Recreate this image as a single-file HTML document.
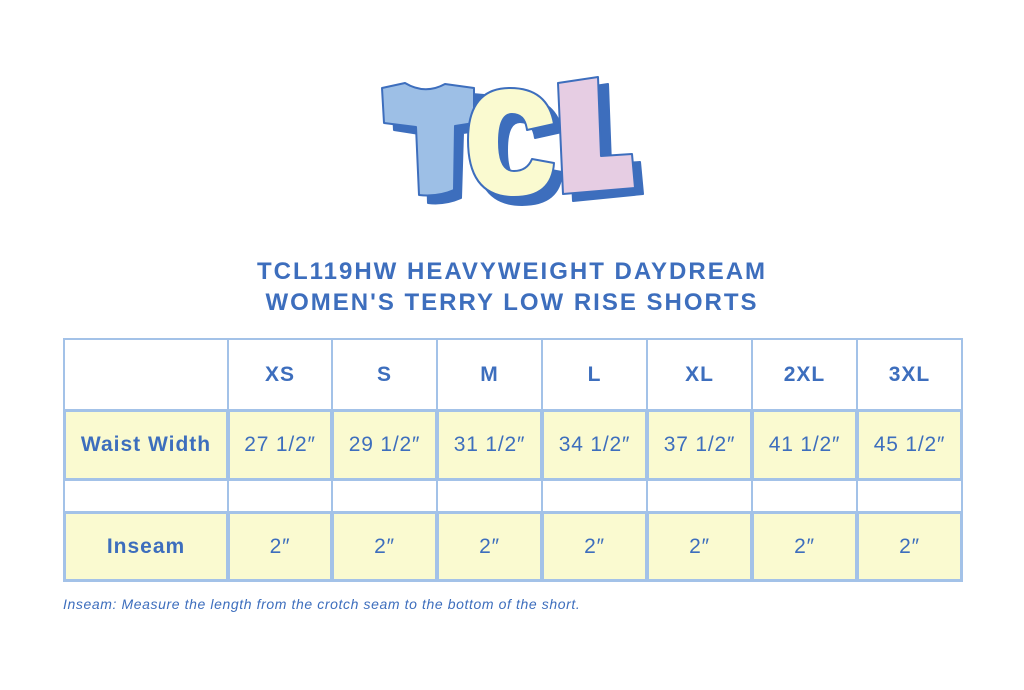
<!DOCTYPE html>
<html><head><meta charset="utf-8"><style>
body{margin:0;width:1024px;height:690px;background:#fff;position:relative;font-family:"Liberation Sans",sans-serif;color:#3d6ebd;overflow:hidden}
.t{position:absolute;left:0;width:1024px;text-align:center;font-weight:bold;font-size:24px;letter-spacing:2px}
.c{position:absolute;display:flex;align-items:center;justify-content:center;box-sizing:border-box;font-size:21px;letter-spacing:0.8px}
.b{font-weight:bold;letter-spacing:1px}
.y{background:#fafad0}
</style></head><body>
<svg style="position:absolute;left:0;top:0" width="1024" height="230">
 <g stroke="#3d6ebd" stroke-width="2" stroke-linejoin="round">
  <path d="M392 95 L412 89 Q430 100 448 92 L484 95 L484 130 L463 133 L461 198 Q445 205 428 203 L426 135 L394 130 Z" fill="#3d6ebd"/>
  <path d="M518 98 Q476 98 476 148 Q476 205 522 205 Q560 205 562 172 L540 168 Q534 180 522 180 Q507 180 507 150 Q507 122 520 122 Q533 122 535 138 L562 132 Q556 98 518 98Z" fill="#3d6ebd"/>
  <path d="M568 90 L608 84 L611 164 L640 162 L643 194 L573 201 Z" fill="#3d6ebd"/>
  <path d="M382 88 L405 83 Q425 95 445 84 L474 88 L474 123 L455 126 L454 190 Q438 197 419 195 L416 127 L384 123 Z" fill="#9dbfe6"/>
  <path d="M510 88 Q468 88 468 140 Q468 197 514 197 Q552 197 554 163 L532 159 Q527 171 514 171 Q499 171 499 142 Q499 114 512 114 Q525 114 527 130 L554 124 Q548 88 510 88Z" fill="#fafad0"/>
  <path d="M558 83 L598 77 L601 156 L632 154 L635 188 L563 194 Z" fill="#e6cde3"/>
 </g>
</svg>
<div class="t" style="top:258px">TCL119HW HEAVYWEIGHT DAYDREAM</div>
<div class="t" style="top:289px">WOMEN'S TERRY LOW RISE SHORTS</div>
<div id="tb"></div>
<div style="position:absolute;left:63px;top:596px;font-size:14px;letter-spacing:0.6px;font-style:italic">Inseam: Measure the length from the crotch seam to the bottom of the short.</div>
<script>
const xs=[63,227,331,436,541,646,751,856,961];
const ys=[338,409,479,511,580];
const data=[["","XS","S","M","L","XL","2XL","3XL"],
["Waist Width","27 1/2″","29 1/2″","31 1/2″","34 1/2″","37 1/2″","41 1/2″","45 1/2″"],
["","","","","","","",""],
["Inseam","2″","2″","2″","2″","2″","2″","2″"]];
let h="";
for(let r=0;r<4;r++)for(let c=0;c<8;c++){
 const cls="c"+((r==0||c==0)?" b":"")+((r==1||r==3)?" y":"");
 h+=`<div class="${cls}" style="left:${xs[c]}px;top:${ys[r]}px;width:${xs[c+1]-xs[c]+2}px;height:${ys[r+1]-ys[r]+2}px;border:${(r==1||r==3)?3:2}px solid #a3c2e8;">${data[r][c]}</div>`;
}
document.getElementById("tb").innerHTML=h;
</script>
</body></html>
